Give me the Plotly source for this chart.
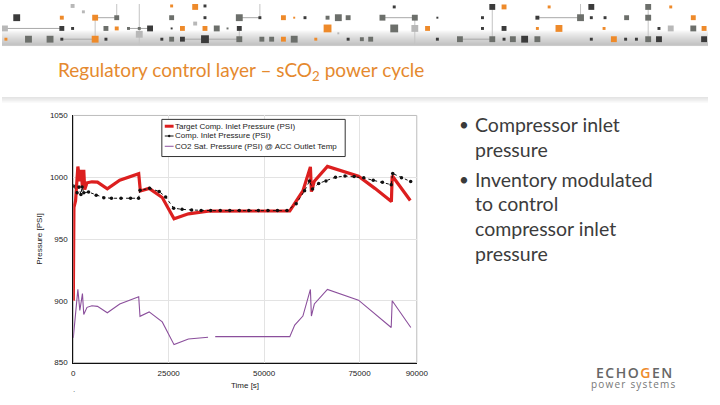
import plotly.graph_objects as go

W, H = 720, 405

# ---------------- data ----------------
target_t = [0, 171, 600, 1200, 1714, 2057, 2400, 2743, 3000, 3600, 4885, 6342, 8913,
            12170, 17140, 17570, 19880, 23310, 26400, 30170, 35310, 56730, 60160,
            62130, 62390, 63160, 66590, 74730, 79020, 83350, 83560, 88300]
target_p = [900, 975.7, 981, 1008.7, 996.8, 1006, 991.5, 1006, 990, 995.5, 996.3, 996,
            990.7, 997.6, 1002.9, 988.9, 991, 983.6, 966.4, 970.4, 972.5, 972.8, 988.9,
            1008.4, 988.4, 996.8, 1008.8, 1000.8, 991, 980.3, 1001.2, 981.2]

comp_t = [0, 1000, 1500, 2000, 2300, 2750, 4000, 6000, 8000, 10000, 12500, 15000, 17100,
          17500, 20000, 22500, 24200, 26300, 28500, 31000, 33500, 36000, 38500, 41000,
          43500, 46000, 48500, 51000, 53500, 56000, 58400, 60600, 61900, 62700, 64300,
          66200, 68700, 71200, 73600, 76100, 78600, 81000, 83300, 83700, 86000, 88400]
comp_p = [993, 987.5, 992, 986, 992, 987.5, 988, 985.5, 983.5, 983, 983, 983, 983,
          989.5, 991, 988.5, 984, 975, 974, 973.5, 973, 973, 973, 973,
          973, 973, 973, 973, 973, 973, 978.5, 989, 997, 990.5, 995,
          997, 1000, 1001, 1000.5, 999.5, 997.5, 996, 994, 1003, 999.5, 996.5]

sat_t = [0, 343, 857, 1200, 1714, 2400, 2743, 3600, 4885, 6342, 8913, 12170, 17140,
         17480, 19880, 23310, 26400, 30170, 35310, None, 37190, 43020, 56730, 58020,
         60160, 62130, 62390, 63160, 66590, 74730, 79020, 83300, 83560, 88440]
sat_p = [870, 881.6, 894.7, 909.2, 892.1, 905.8, 888.9, 894.7, 896, 895.5, 890.3, 897.4,
         903.2, 887.4, 891, 882.9, 864.5, 869, 870.5, None, 871, 871, 871, 880.3,
         887.6, 909.2, 887.6, 897.4, 909.2, 900.5, 889.5, 878.4, 900, 878.4]

x_ticks = [0, 25000, 50000, 75000, 90000]
y_ticks = [850, 900, 950, 1000, 1050]

series_names = ["Target Comp. Inlet Pressure (PSI)",
                "Comp. Inlet Pressure (PSI)",
                "CO2 Sat. Pressure (PSI) @ ACC Outlet Temp"]
series_colors = ["#dc1f1f", "#111111", "#8b4f9c"]

title_text = "Regulatory control layer – sCO<sub>2</sub> power cycle"
bullet_groups = [["Compressor inlet", "pressure"],
                 ["Inventory modulated", "to control", "compressor inlet", "pressure"]]

# ---------------- helpers ----------------
def px(x):
    return x / W

def py(y):
    return 1 - y / H

fig = go.Figure()

fig.add_trace(go.Scatter(x=target_t, y=target_p, mode="lines", name=series_names[0],
                         line=dict(color=series_colors[0], width=3.2)))
fig.add_trace(go.Scatter(x=comp_t, y=comp_p, mode="lines+markers", name=series_names[1],
                         line=dict(color=series_colors[1], width=1, dash="dot"),
                         marker=dict(color=series_colors[1], size=3.5)))
fig.add_trace(go.Scatter(x=sat_t, y=sat_p, mode="lines", name=series_names[2],
                         connectgaps=False,
                         line=dict(color=series_colors[2], width=1.1)))

x0, x1 = 72.7, 423
y0, y1 = 114, 366.7

axis_font = dict(family="Liberation Sans, Arial", size=8, color="#222222")
fig.update_layout(
    width=W, height=H,
    margin=dict(l=0, r=0, t=0, b=0),
    paper_bgcolor="white", plot_bgcolor="white",
    showlegend=False,
    xaxis=dict(domain=[px(x0), px(x1)], range=[0, 90000], tickvals=x_ticks,
               ticktext=[str(v) for v in x_ticks], showgrid=True, gridcolor="#e3e3e3",
               gridwidth=1, zeroline=False, showline=True, linecolor="#111", linewidth=1,
               ticks="", tickfont=axis_font, ticklabelstandoff=3,
               title=dict(text="Time [s]", font=axis_font, standoff=5)),
    yaxis=dict(domain=[py(y1), py(y0)], range=[850, 1050], tickvals=y_ticks,
               showgrid=True, gridcolor="#e3e3e3", gridwidth=1, zeroline=False,
               showline=True, linecolor="#111", linewidth=1, ticks="",
               tickfont=axis_font, ticklabelstandoff=3,
               title=dict(text="Pressure [PSI]", font=axis_font, standoff=6)),
)

shapes = []
ann = []
# plot frame (top/right light border)
shapes.append(dict(type="rect", xref="paper", yref="paper", x0=px(x0), x1=px(x1),
                   y0=py(y1), y1=py(y0), line=dict(color="#bdbdbd", width=1), layer="below"))

# ---------------- legend box (compact, like the original) ----------------
lg_x0, lg_x1, lg_y0, lg_y1 = 163, 350, 118, 156
shapes.append(dict(type="rect", xref="paper", yref="paper", x0=px(lg_x0), x1=px(lg_x1),
                   y0=py(lg_y1), y1=py(lg_y0), fillcolor="white",
                   line=dict(color="#333333", width=1), layer="above"))
legend_rows = [125, 135, 145.5]
legend_widths = [3, 1, 1]
for name, col, yy, lw in zip(series_names, series_colors, legend_rows, legend_widths):
    shapes.append(dict(type="line", xref="paper", yref="paper", x0=px(166), x1=px(175),
                       y0=py(yy), y1=py(yy), line=dict(color=col, width=lw), layer="above"))
    ann.append(dict(text=name, x=px(174), y=py(yy), xref="paper", yref="paper",
                    xanchor="left", yanchor="middle", showarrow=False,
                    font=dict(family="Liberation Sans, Arial", size=8, color="#222")))
shapes.append(dict(type="circle", xref="paper", yref="paper", x0=px(169.3), x1=px(171.7),
                   y0=py(136.2), y1=py(133.8), fillcolor="#111", line=dict(width=0),
                   layer="above"))

# ---------------- banner decoration ----------------
DK, GR, LG, OR = "#3b3b3b", "#6c6f6b", "#b8b8b8", "#ee8a2a"
for i in range(10):
    shapes.append(dict(type="rect", xref="paper", yref="paper", x0=0, x1=1,
                       y0=py(42), y1=py(42 - 1.5 * (i + 1)),
                       fillcolor="rgba(120,120,120,0.05)", line=dict(width=0), layer="above"))
shapes.append(dict(type="line", xref="paper", yref="paper", x0=0, x1=1, y0=py(42.5), y1=py(42.5),
                   line=dict(color="#c9c9c9", width=1)))
for i in range(6):
    shapes.append(dict(type="rect", xref="paper", yref="paper", x0=0, x1=1,
                       y0=py(96 + i), y1=py(95 + i),
                       fillcolor="rgba(150,150,150,%.2f)" % (0.28 - 0.045 * i),
                       line=dict(width=0), layer="above"))

conn_lines = [(0, 25, 61, 25), (95, 14, 117, 14), (61, 36, 95, 36), (129, 25, 151, 25),
              (184, 36, 242, 36), (242, 14, 263, 14), (546, 14, 590, 14), (467, 36, 500, 36),
              (388, 14, 421, 14)]
vert_lines = [(95, 14, 36), (140, 0, 42), (117, 0, 14), (242, 25, 42), (263, 0, 14),
              (500, 0, 36), (659, 0, 42), (590, 0, 14), (421, 14, 42)]
for (a, b, c, d) in conn_lines:
    shapes.append(dict(type="line", xref="paper", yref="paper", x0=px(a), x1=px(c),
                       y0=py(b), y1=py(d), line=dict(color="#a8a8a8", width=1)))
for (a, b, d) in vert_lines:
    shapes.append(dict(type="line", xref="paper", yref="paper", x0=px(a), x1=px(a),
                       y0=py(b), y1=py(d), line=dict(color="#c4c4c4", width=1)))

squares = [
    (15, 14, 7, DK), (61, 14, 4, OR), (95, 14, 6, OR), (117, 14, 5, GR), (173, 14, 5, GR),
    (207, 14, 3, DK), (242, 14, 7, GR), (263, 14, 3, DK), (287, 14, 5, OR), (298, 14, 2, OR),
    (309, 14, 3, DK), (332, 14, 4, GR), (343, 14, 7, GR), (353, 14, 5, GR),
    (3, 25, 6, LG), (61, 25, 5, DK), (72, 25, 3, DK), (106, 25, 5, GR), (117, 25, 4, OR),
    (129, 25, 3, GR), (140, 25, 3, GR), (151, 25, 6, DK), (173, 25, 2, DK), (184, 25, 5, OR),
    (197, 20, 4, LG), (207, 25, 5, OR), (219, 25, 6, GR), (230, 25, 2, GR), (242, 25, 5, DK),
    (332, 25, 8, OR), (343, 30, 2, LG),
    (4, 36, 3, OR), (27, 36, 7, GR), (49, 36, 7, GR), (61, 36, 3, DK), (95, 36, 7, OR),
    (106, 36, 3, DK), (140, 31, 7, LG), (163, 36, 3, DK), (173, 36, 5, GR), (184, 36, 5, DK),
    (207, 36, 8, DK), (242, 36, 6, GR), (265, 36, 5, GR), (275, 36, 5, GR), (287, 36, 5, OR),
    (298, 36, 7, GR), (320, 36, 3, OR), (353, 36, 3, DK),
    (72, 2, 4, LG), (83, 8, 3, LG), (173, 2, 3, OR), (197, 3, 6, OR), (207, 2, 3, DK),
    (367, 36, 4, GR), (376, 36, 5, GR), (388, 14, 6, GR), (421, 14, 6, GR), (444, 14, 2, DK),
    (400, 25, 8, GR), (421, 25, 7, LG), (434, 25, 5, OR), (444, 36, 3, DK), (467, 36, 6, GR),
    (490, 14, 3, DK), (490, 25, 3, DK), (500, 36, 6, GR), (512, 25, 5, DK), (512, 36, 3, DK),
    (521, 36, 6, GR), (533, 36, 7, DK), (546, 14, 4, DK), (546, 25, 3, OR), (546, 36, 6, GR),
    (568, 25, 7, OR), (590, 14, 7, GR), (601, 14, 3, DK), (601, 36, 3, DK), (615, 14, 3, DK),
    (614, 25, 3, OR), (624, 36, 6, OR), (636, 36, 3, DK), (637, 14, 5, GR), (647, 36, 3, DK),
    (659, 14, 6, GR), (659, 36, 6, GR), (670, 25, 3, DK), (670, 36, 6, DK), (682, 25, 6, LG),
    (705, 14, 5, OR), (705, 25, 6, GR), (716, 25, 5, OR), (716, 36, 6, DK),
    (400, 3, 3, DK), (500, 3, 6, DK), (512, 3, 5, OR), (558, 3, 3, OR), (601, 3, 6, DK),
    (659, 3, 6, GR), (682, 3, 3, OR),
]
for (cx, cy, s, c) in squares:
    shapes.append(dict(type="rect", xref="paper", yref="paper",
                       x0=px(cx - s / 2), x1=px(cx + s / 2), y0=py(cy + s / 2), y1=py(cy - s / 2),
                       fillcolor=c, line=dict(width=0), layer="above"))

fig.update_layout(shapes=shapes)

# ---------------- text ----------------
ann.append(dict(text=title_text, x=px(55), y=py(69), xref="paper", yref="paper",
                xanchor="left", yanchor="middle", showarrow=False,
                font=dict(family="Lato", size=19, color="#e5892e")))

line_y = 123
for g, group in enumerate(bullet_groups):
    ann.append(dict(text="•", x=px(464), y=py(line_y), xref="paper", yref="paper",
                    xanchor="left", yanchor="middle", showarrow=False,
                    font=dict(family="Lato", size=17, color="#3a3a3a")))
    for i, txt in enumerate(group):
        ann.append(dict(text=txt, x=px(480), y=py(line_y), xref="paper", yref="paper",
                        xanchor="left", yanchor="middle", showarrow=False,
                        font=dict(family="Lato", size=19.5, color="#3c3c3c")))
        line_y += 25.3
    line_y += 5.5

ann.append(dict(text="<span style='letter-spacing:1.5px'>ECHO<span style='color:#ee8a2a'>G</span>EN</span>",
                x=px(646), y=py(377), xref="paper", yref="paper", xanchor="center",
                yanchor="middle", showarrow=False,
                font=dict(family="Open Sans", size=14, color="#666666", weight=600)))
ann.append(dict(text="<span style='letter-spacing:1.2px'>power systems</span>", x=px(645),
                y=py(389), xref="paper", yref="paper", xanchor="center", yanchor="middle",
                showarrow=False, font=dict(family="Open Sans", size=10, color="#777777")))
ann.append(dict(text=".", x=px(73), y=py(394), xref="paper", yref="paper",
                xanchor="center", yanchor="middle", showarrow=False,
                font=dict(family="Liberation Sans", size=8, color="#555")))
fig.update_layout(annotations=ann)

fig.write_html("out.html")
